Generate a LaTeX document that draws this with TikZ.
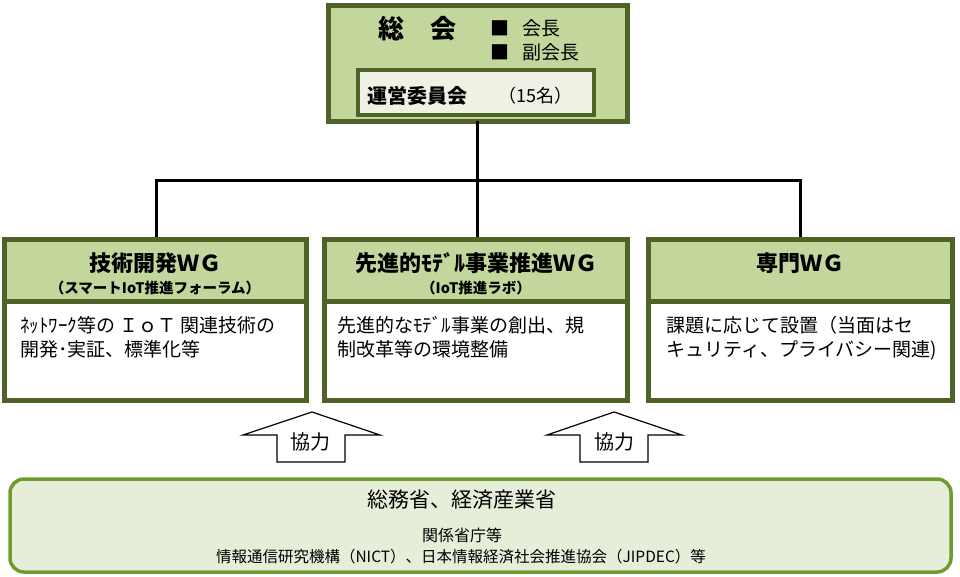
\documentclass[tikz,border=0pt]{standalone}
\usepackage{fontspec}
\setmainfont{Noto Sans CJK JP}
\definecolor{hdr}{HTML}{C3D69B}
\definecolor{bdr}{HTML}{4F6228}
\definecolor{inner}{HTML}{EEF2E4}
\definecolor{base}{HTML}{E6EED9}
\definecolor{basebdr}{HTML}{6F9A2E}
\tikzset{
  grp/.style={draw=bdr, line width=5pt, fill=hdr},
  innerbox/.style={draw=bdr, line width=4.5pt, fill=inner},
  bodybox/.style={draw=bdr, line width=5pt, fill=white},
  conn/.style={draw=black, line width=3pt},
  blockarrow/.style={draw=black, line width=1.2pt, fill=white},
  t/.style={inner sep=0pt, anchor=center},
  bodytxt/.style={inner sep=0pt, anchor=north west, align=left, font=\fontsize{19}{24}\selectfont},
  ttl/.style={inner sep=0pt, anchor=center, font=\fontsize{22}{24}\selectfont\bfseries},
  sub/.style={inner sep=0pt, anchor=center, font=\fontsize{14.5}{16}\selectfont\bfseries},
}
\begin{document}
\begin{tikzpicture}[x=1pt,y=-1pt]
\useasboundingbox (0,0) rectangle (960,576);
% top box
\draw[grp] (328,5) rectangle (627,121);
\draw[innerbox] (358,70) rectangle (594,115);
\node[t,font=\fontsize{26}{28}\selectfont\bfseries] (sokai) at (417,29) {総\hspace{1em}会};
\node[t,anchor=west,font=\fontsize{19}{20}\selectfont] (kaicho) at (490,28) {■\hspace{0.7em}会長};
\node[t,anchor=west,font=\fontsize{19}{20}\selectfont] (fuku) at (490,52) {■\hspace{0.7em}副会長};
\node[t,anchor=west,font=\fontsize{20}{22}\selectfont\bfseries] (unei) at (367,96) {運営委員会};
\node[t,anchor=west,font=\fontsize{18}{22}\selectfont] (unein) at (498,96) {（15名）};
\coordinate (topb) at (477,121);
% WG boxes
\draw[bodybox] (4,239) rectangle (306,400);
\draw[grp] (4,239) rectangle (306,301);
\draw[bodybox] (324,239) rectangle (627,400);
\draw[grp] (324,239) rectangle (627,301);
\draw[bodybox] (648,239) rectangle (952,400);
\draw[grp] (648,239) rectangle (952,301);
\coordinate (wg1) at (156,237);
\coordinate (wg2) at (477,237);
\coordinate (wg3) at (800,237);
\coordinate (j1) at (156,180);
\coordinate (j2) at (477,180);
\coordinate (j3) at (800,180);
\draw[conn] (topb) -- (j2);
\draw[conn,line join=miter] (wg1) -- (j1) -- (j3) -- (wg3);
\draw[conn] (j2) -- (wg2);
% titles
\node[ttl] (t1) at (155,263) {技術開発ＷＧ};
\node[sub] (s1) at (155,288) {（スマートIoT推進フォーラム）};
\node[ttl] (t2) at (476,263) {先進的ﾓﾃﾞﾙ事業推進ＷＧ};
\node[sub] (s2) at (476,288) {（IoT推進ラボ）};
\node[ttl] (t3) at (800,263) {専門ＷＧ};
% bodies
\node[bodytxt] (b1) at (20,316) {ﾈｯﾄﾜｰｸ等の ＩｏＴ 関連技術の\\開発･実証、標準化等};
\node[bodytxt] (b2) at (337,316) {先進的なﾓﾃﾞﾙ事業の創出、規\\制改革等の環境整備};
\node[bodytxt] (b3) at (666,316) {課題に応じて設置（当面はセ\\キュリティ、プライバシー関連)};
% block arrows
\draw[blockarrow] (277,462) -- (277,435) -- (243,435) -- (312,412) -- (380,435) -- (345,435) -- (345,462) -- cycle;
\node[t,font=\fontsize{20}{22}\selectfont] (k1) at (310,442) {協力};
\draw[blockarrow] (580,462) -- (580,435) -- (547,435) -- (614,412) -- (682,435) -- (648,435) -- (648,462) -- cycle;
\node[t,font=\fontsize{20}{22}\selectfont] (k2) at (614,442) {協力};
% base box
\draw[draw=basebdr, line width=3.5pt, fill=base, rounded corners=14pt] (10,479) rectangle (951,572);
\node[t,font=\fontsize{21}{24}\selectfont] (m1) at (462,500) {総務省、経済産業省};
\node[t,font=\fontsize{16}{18}\selectfont] (m2) at (462,535) {関係省庁等};
\node[t,font=\fontsize{15.5}{18}\selectfont] (m3) at (461,557) {情報通信研究機構（NICT）、日本情報経済社会推進協会（JIPDEC）等};
\end{tikzpicture}
\end{document}
